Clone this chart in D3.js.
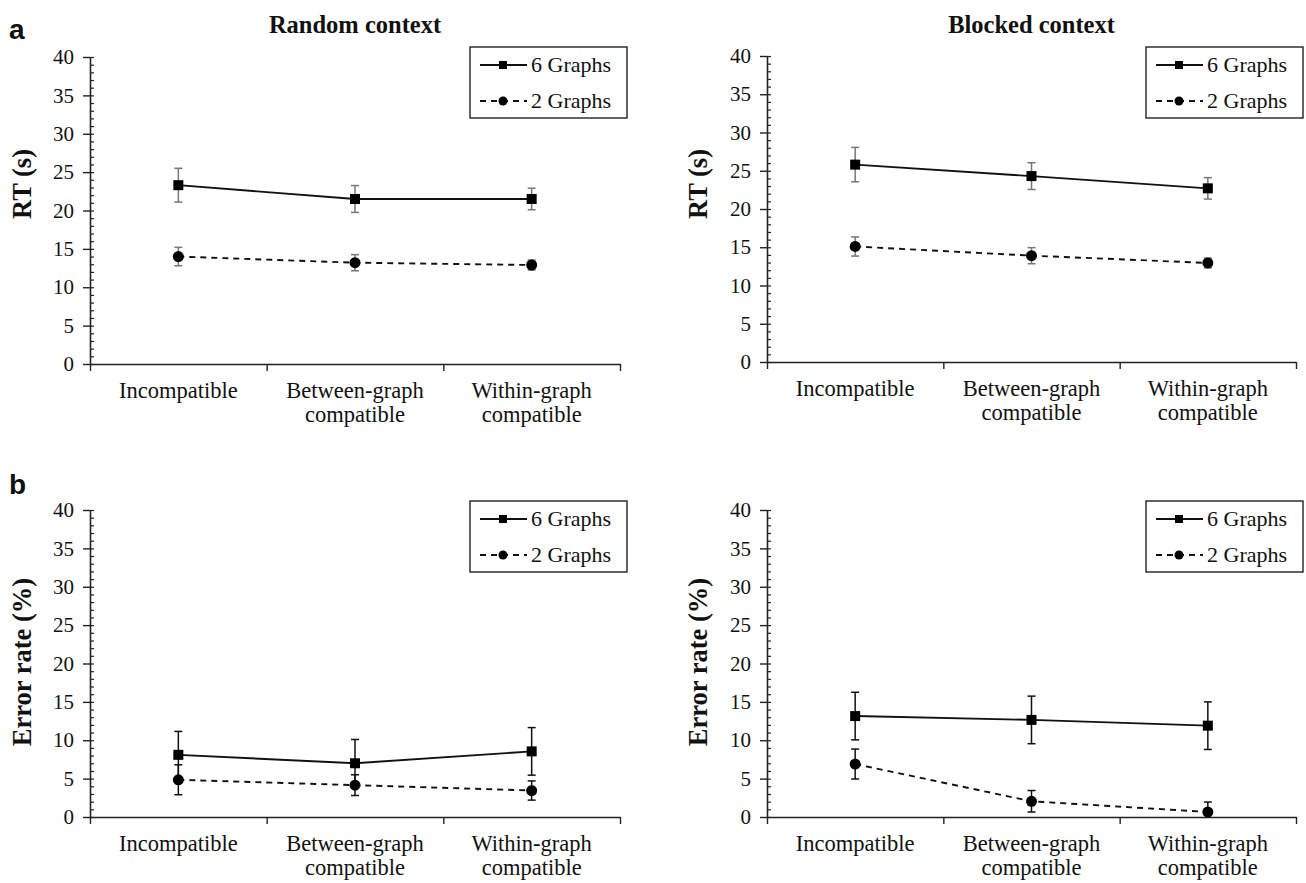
<!DOCTYPE html>
<html><head><meta charset="utf-8">
<script src="https://cdn.jsdelivr.net/npm/d3@7"></script>
<style>body{margin:0;background:#fff}svg{display:block}</style>
</head><body>
<svg id="c" width="1306" height="883"></svg>
<script>
const categories = [["Incompatible"], ["Between-graph", "compatible"], ["Within-graph", "compatible"]];
const seriesNames = ["6 Graphs", "2 Graphs"];
const yTicks = [0, 5, 10, 15, 20, 25, 30, 35, 40];

// Random context RT (s)
const rtRandom6 = [23.3, 21.5, 21.5];
const rtRandom6Err = [2.2, 1.75, 1.4];
const rtRandom2 = [14.0, 13.2, 12.9];
const rtRandom2Err = [1.2, 1.05, 0.65];
// Blocked context RT (s)
const rtBlocked6 = [25.8, 24.3, 22.7];
const rtBlocked6Err = [2.25, 1.75, 1.4];
const rtBlocked2 = [15.1, 13.9, 12.95];
const rtBlocked2Err = [1.25, 1.05, 0.65];
// Random context error rate (%)
const erRandom6 = [8.1, 7.0, 8.55];
const erRandom6Err = [3.05, 3.1, 3.1];
const erRandom2 = [4.85, 4.15, 3.45];
const erRandom2Err = [1.95, 1.35, 1.25];
// Blocked context error rate (%)
const erBlocked6 = [13.15, 12.65, 11.9];
const erBlocked6Err = [3.1, 3.1, 3.1];
const erBlocked2 = [6.9, 2.05, 0.65];
const erBlocked2Err = [1.95, 1.4, 1.3];

const svg = d3.select("#c");
const serif = "'Liberation Serif','Times New Roman',serif";

const panels = [
  {x0: 90, x1: 620, yb: 364, yt: 57, title: "Random context", ylab: "RT (s)", s6: rtRandom6, e6: rtRandom6Err, s2: rtRandom2, e2: rtRandom2Err, errColor: "#777", legY: 47, titleY: 33, ylabX: 31, ylabY: 184, lab: "a", labY: 39},
  {x0: 767, x1: 1296, yb: 362, yt: 56, title: "Blocked context", ylab: "RT (s)", s6: rtBlocked6, e6: rtBlocked6Err, s2: rtBlocked2, e2: rtBlocked2Err, errColor: "#777", legY: 47, titleY: 33, ylabX: 707, ylabY: 184},
  {x0: 90, x1: 620, yb: 817, yt: 510, ylab: "Error rate (%)", s6: erRandom6, e6: erRandom6Err, s2: erRandom2, e2: erRandom2Err, errColor: "#111", legY: 501, ylabX: 31, ylabY: 662, lab: "b", labY: 494},
  {x0: 767, x1: 1296, yb: 817, yt: 510, ylab: "Error rate (%)", s6: erBlocked6, e6: erBlocked6Err, s2: erBlocked2, e2: erBlocked2Err, errColor: "#111", legY: 501, ylabX: 707, ylabY: 662}
];

panels.forEach(p => {
  const g = svg.append("g");
  const y = d3.scaleLinear().domain([0, 40]).range([p.yb, p.yt]);
  const xb = d3.scaleBand().domain(d3.range(categories.length)).range([p.x0, p.x1]);
  const xl = d3.scaleLinear().domain([0, categories.length]).range([p.x0, p.x1]);
  const cx = i => xb(i) + xb.bandwidth() / 2;

  // minor ticks (right side)
  const minor = g.append("g").attr("transform", `translate(${p.x0},0)`)
    .call(d3.axisRight(y).tickValues(d3.range(0, 41)).tickSize(4).tickFormat(""));
  minor.select(".domain").remove();
  minor.selectAll("line").attr("stroke", "#222").attr("stroke-width", 1.2);

  // major y axis
  const ya = g.append("g").attr("transform", `translate(${p.x0},0)`)
    .call(d3.axisLeft(y).tickValues(yTicks).tickSize(7).tickSizeOuter(0).tickPadding(9));
  ya.select(".domain").attr("stroke", "#222").attr("stroke-width", 1.6);
  ya.selectAll("line").attr("stroke", "#222").attr("stroke-width", 1.4);
  ya.selectAll("text").attr("font-family", serif).attr("font-size", 21).attr("fill", "#111");

  // x axis
  const xa = g.append("g").attr("transform", `translate(0,${p.yb})`)
    .call(d3.axisBottom(xl).tickValues(d3.range(0, categories.length + 1)).tickSize(7).tickSizeOuter(0).tickFormat(""));
  xa.select(".domain").attr("stroke", "#222").attr("stroke-width", 1.6);
  xa.selectAll("line").attr("stroke", "#222").attr("stroke-width", 1.4);

  // category labels
  categories.forEach((lines, i) => {
    const t = g.append("text").attr("x", cx(i)).attr("y", p.yb + 34)
      .attr("text-anchor", "middle").attr("font-family", serif).attr("font-size", 22.5).attr("fill", "#111");
    lines.forEach((ln, k) => t.append("tspan").attr("x", cx(i)).attr("dy", k === 0 ? 0 : 24).text(ln));
  });

  // title
  if (p.title) {
    g.append("text").attr("x", (p.x0 + p.x1) / 2).attr("y", p.titleY).attr("text-anchor", "middle")
      .attr("font-family", serif).attr("font-weight", "bold").attr("font-size", 24.5).attr("fill", "#111").text(p.title);
  }
  // y label
  g.append("text").attr("transform", `translate(${p.ylabX},${p.ylabY}) rotate(-90)`).attr("text-anchor", "middle")
    .attr("font-family", serif).attr("font-weight", "bold").attr("font-size", 26.5).attr("fill", "#111").text(p.ylab);
  if (p.lab) {
    g.append("text").attr("x", 9).attr("y", p.labY).attr("font-family", "'Liberation Sans',Arial,sans-serif")
      .attr("font-weight", "bold").attr("font-size", 28).attr("fill", "#111").text(p.lab);
  }

  const line = d3.line().x((d, i) => cx(i)).y(d => y(d));
  const series = [
    {vals: p.s6, errs: p.e6, dash: null, marker: "square"},
    {vals: p.s2, errs: p.e2, dash: "6,5", marker: "circle"}
  ];
  series.forEach(s => {
    // error bars
    s.vals.forEach((v, i) => {
      const lo = Math.max(0, v - s.errs[i]), hi = v + s.errs[i];
      const eg = g.append("g").attr("stroke", p.errColor).attr("stroke-width", 1.5);
      eg.append("line").attr("x1", cx(i)).attr("x2", cx(i)).attr("y1", y(lo)).attr("y2", y(hi));
      eg.append("line").attr("x1", cx(i) - 4).attr("x2", cx(i) + 4).attr("y1", y(hi)).attr("y2", y(hi));
      if (v - s.errs[i] > 0) eg.append("line").attr("x1", cx(i) - 4).attr("x2", cx(i) + 4).attr("y1", y(lo)).attr("y2", y(lo));
    });
    g.append("path").datum(s.vals).attr("d", line).attr("fill", "none").attr("stroke", "#111")
      .attr("stroke-width", 1.9).attr("stroke-dasharray", s.dash);
    s.vals.forEach((v, i) => {
      if (s.marker === "square") g.append("rect").attr("x", cx(i) - 5).attr("y", y(v) - 5).attr("width", 10).attr("height", 10).attr("fill", "#000");
      else g.append("circle").attr("cx", cx(i)).attr("cy", y(v)).attr("r", 5.5).attr("fill", "#000");
    });
  });

  // legend
  const lx = p.x1 - 150, lw = 157, lh = 71;
  const lg = g.append("g").attr("transform", `translate(${lx},${p.legY})`);
  lg.append("rect").attr("width", lw).attr("height", lh).attr("fill", "#fff").attr("stroke", "#222").attr("stroke-width", 1.4);
  seriesNames.forEach((name, k) => {
    const ry = k === 0 ? 18 : 54;
    lg.append("line").attr("x1", 10).attr("x2", 57).attr("y1", ry).attr("y2", ry).attr("stroke", "#111")
      .attr("stroke-width", 1.8).attr("stroke-dasharray", k === 0 ? null : "6,5");
    if (k === 0) lg.append("rect").attr("x", 29).attr("y", ry - 4).attr("width", 8).attr("height", 8).attr("fill", "#000");
    else lg.append("circle").attr("cx", 33).attr("cy", ry).attr("r", 4.5).attr("fill", "#000");
    lg.append("text").attr("x", 61).attr("y", ry + 7).attr("font-family", serif).attr("font-size", 22).attr("fill", "#111").text(name);
  });
});
</script>
</body></html>
